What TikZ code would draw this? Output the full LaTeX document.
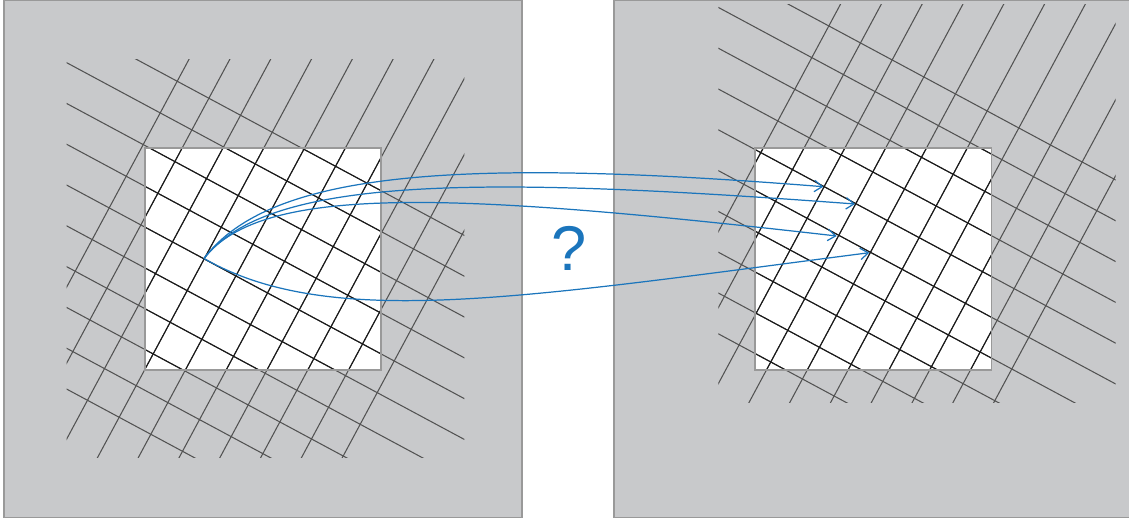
\documentclass[tikz,border=0pt]{standalone}
\usepackage{fontspec}
\setmainfont{Liberation Sans}
\usetikzlibrary{arrows.meta}
\definecolor{panelgray}{HTML}{C8C9CB}
\definecolor{framegray}{HTML}{999999}
\definecolor{linkblue}{HTML}{1B75BC}
\tikzset{
  panel/.style={draw=framegray, fill=panelgray, line width=0.6pt},
  window/.style={draw=framegray, line width=0.6pt},
  outerline/.style={draw=black!68, line width=0.6pt},
  innerline/.style={draw=black!90, line width=0.6pt},
  link/.style={linkblue, line width=0.7pt, -{Straight Barb[length=4.5pt,width=6.5pt]}}
}
% rotated lattice, local origin = top left corner of its clip box
\newcommand{\lattice}[1]{%
  \foreach \k in {-1,...,8}
    \draw[#1] (-60,{3.4+40.8*\k-0.537*60}) -- (460,{3.4+40.8*\k+0.537*460});
  \foreach \j in {0,...,9}
    \draw[#1] ({122.3+40.8*\j+0.537*60},-60) -- ({122.3+40.8*\j-0.537*460},460);
}
\begin{document}
\begin{tikzpicture}[x=0.02cm,y=-0.02cm]
  \useasboundingbox (0,0) rectangle (1129,521);
  % left panel
  \draw[panel] (4,0.5) rectangle (522,517.5);
  \fill[white] (145,148) rectangle (381,370);
  \begin{scope}
    \clip (66.7,59.3) rectangle +(397.6,398);
    \begin{scope}[shift={(66.7,59.3)}] \lattice{outerline} \end{scope}
  \end{scope}
  \begin{scope}
    \clip (145,148) rectangle (381,370);
    \begin{scope}[shift={(66.7,59.3)}] \lattice{innerline} \end{scope}
  \end{scope}
  \draw[window] (145,148) rectangle (381,370);
  % right panel
  \draw[panel] (614,0.5) rectangle (1132,517.5);
  \fill[white] (755,148) rectangle (991.7,370);
  \begin{scope}
    \clip (718.3,4) rectangle +(397.4,398.3);
    \begin{scope}[shift={(718.3,4)}] \lattice{outerline} \end{scope}
  \end{scope}
  \begin{scope}
    \clip (755,148) rectangle (991.7,370);
    \begin{scope}[shift={(718.3,4)}] \lattice{innerline} \end{scope}
  \end{scope}
  \draw[window] (755,148) rectangle (991.7,370);
  % correspondences
  \coordinate (src) at (204,258.5);
  \coordinate (t1) at (823.3,186.7);
  \coordinate (t2) at (855,204);
  \coordinate (t3) at (836.7,236);
  \coordinate (t4) at (869.3,252.7);
  \draw[link] (src) .. controls +(66,-88) and +(-363,-29) .. (t1);
  \draw[link] (src) .. controls +(64,-83) and +(-375,-28) .. (t2);
  \draw[link] (src) .. controls +(58,-76) and +(-377,-43) .. (t3);
  \draw[link] (src) .. controls +(126,72) and +(-349,45) .. (t4);
  \node[text=linkblue, font=\fontsize{36}{40}\selectfont, inner sep=0pt] (qmark) at (569,248.3) {?};
\end{tikzpicture}
\end{document}
